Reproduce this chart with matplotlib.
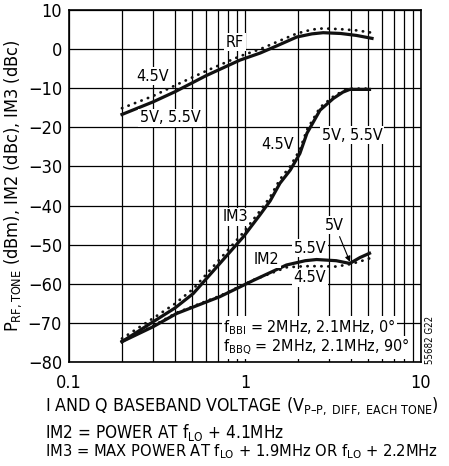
import matplotlib
matplotlib.use('Agg')
import matplotlib.pyplot as plt
import numpy as np

plt.rcParams['font.family'] = ['DejaVu Sans']
plt.rcParams['font.stretch'] = 'condensed'
plt.rcParams['mathtext.fontset'] = 'custom'
plt.rcParams['mathtext.rm'] = 'DejaVu Sans:stretch=condensed'
plt.rcParams['mathtext.it'] = 'DejaVu Sans:stretch=condensed'

# RF output power, 5V/5.5V (solid) and 4.5V (dotted)
rf_x = [0.2, 0.3, 0.4, 0.6, 0.937, 1.22, 1.51, 1.97, 2.4, 2.78, 3.5, 4.3, 5.27]
rf_solid = [-16.7, -13.5, -10.9, -6.8, -2.8, -1.0, 0.8, 3.1, 3.9, 4.2, 4.0, 3.5, 2.75]
rf_dot = [-15.1, -12.0, -9.3, -5.6, -1.8, 0.0, 1.8, 4.0, 5.0, 5.3, 5.1, 4.8, 4.2]

# IM3
im3_x = [0.2, 0.301, 0.4, 0.508, 0.72, 0.978, 1.22, 1.39, 1.58, 1.81, 2.05, 2.25,
         2.67, 3.18, 3.6, 3.94, 5.1]
im3_solid = [-74.8, -69.7, -66.2, -62.5, -54.8, -48.0, -42.3, -38.8, -34.3, -30.9, -26.7, -21.5,
             -15.6, -12.6, -11.0, -10.3, -10.3]
im3_dot = [-74.0, -68.8, -65.1, -61.3, -53.7, -46.9, -41.3, -37.8, -33.3, -29.9, -25.7, -20.6,
           -14.9, -12.1, -10.7, -10.1, -10.1]

# IM2
im2_x = [0.2, 0.3, 0.409, 0.72, 1.12, 1.72, 2.2, 2.55, 3.3, 3.94, 4.5, 5.1]
im2_solid = [-74.8, -71.0, -67.6, -63.3, -59.1, -55.2, -54.1, -53.8, -54.1, -54.8, -53.3, -52.2]
im2_dot = [-74.6, -70.8, -67.4, -63.1, -59.0, -55.8, -55.5, -55.5, -55.6, -55.0, -54.3, -53.5]

fig = plt.figure(figsize=(4.49, 4.66), dpi=100)
ax = fig.add_axes([0.1537, 0.2232, 0.7839, 0.7553])

lw = 2.3
dots = dict(color='#111111', lw=2.0, linestyle=(0, (0.1, 2.4)), dash_capstyle='round')
ax.plot(rf_x, rf_solid, color='#111111', lw=lw)
ax.plot(rf_x, rf_dot, **dots)
ax.plot(im3_x, im3_solid, color='#111111', lw=lw)
ax.plot(im3_x, im3_dot, **dots)
ax.plot(im2_x, im2_solid, color='#111111', lw=lw)
ax.plot(im2_x, im2_dot, **dots)

ax.set_xscale('log')
ax.set_xlim(0.1, 10)
ax.set_ylim(-80, 10)
ax.set_yticks(np.arange(-80, 11, 10))
ax.set_yticklabels(['\u221280', '\u221270', '\u221260', '\u221250', '\u221240', '\u221230',
                    '\u221220', '\u221210', '0', '10'])
ax.set_xticks([0.1, 1, 10])
ax.set_xticklabels(['0.1', '1', '10'])
ax.grid(which='both', color='black', lw=0.9)
ax.tick_params(which='both', length=0, labelsize=13)
ax.tick_params(axis='x', pad=9)
ax.tick_params(axis='y', pad=5)
for s in ax.spines.values():
    s.set_linewidth(1.2)

box = dict(facecolor='white', edgecolor='none', pad=1.0)
fs = 11.5
ax.text(0.877, 1.8, 'RF', fontsize=fs, ha='center', va='center', bbox=box)
ax.text(0.30, -6.9, '4.5V', fontsize=fs, ha='center', va='center', bbox=box)
ax.text(0.375, -17.6, '5V, 5.5V', fontsize=fs, ha='center', va='center', bbox=box)
ax.text(1.54, -24.5, '4.5V', fontsize=fs, ha='center', va='center', bbox=box)
ax.text(4.05, -22.0, '5V, 5.5V', fontsize=fs, ha='center', va='center', bbox=box)
ax.text(0.877, -42.9, 'IM3', fontsize=fs, ha='center', va='center', bbox=box)
ax.text(1.33, -53.7, 'IM2', fontsize=fs, ha='center', va='center', bbox=box)
ax.text(2.34, -50.9, '5.5V', fontsize=fs, ha='center', va='center', bbox=box)
ax.text(2.34, -58.5, '4.5V', fontsize=fs, ha='center', va='center', bbox=box)
ax.annotate('5V', xy=(3.95, -54.4), xytext=(3.24, -45.0), fontsize=fs,
            ha='center', va='center', bbox=box,
            arrowprops=dict(arrowstyle='-|>', color='black', lw=0.8,
                            shrinkA=2, shrinkB=0, mutation_scale=8))
ax.text(0.75, -71.1, '$\\mathregular{f_{BBI}}$ = 2MHz, 2.1MHz, 0\u00b0', fontsize=fs,
        ha='left', va='center', bbox=box)
ax.text(0.75, -76.2, '$\\mathregular{f_{BBQ}}$ = 2MHz, 2.1MHz, 90\u00b0', fontsize=fs,
        ha='left', va='center', bbox=box)
fig.text(0.958, 0.27, '55682 G22', fontsize=7, rotation=90, ha='center', va='center')

ax.set_ylabel('$\\mathregular{P_{RF,TONE}}$ (dBm), IM2 (dBc), IM3 (dBc)', fontsize=13, labelpad=3)
fig.text(0.1, 0.118, 'I AND Q BASEBAND VOLTAGE ($\\mathregular{V_{P\u2013P,\\ DIFF,\\ EACH\\ TONE}}$)',
         fontsize=12.8, ha='left', va='baseline')
fig.text(0.1, 0.061, 'IM2 = POWER AT $\\mathregular{f_{LO}}$ + 4.1MHz', fontsize=12.3,
         ha='left', va='baseline')
fig.text(0.1, 0.021, 'IM3 = MAX POWER AT $\\mathregular{f_{LO}}$ + 1.9MHz OR $\\mathregular{f_{LO}}$ + 2.2MHz',
         fontsize=11.8, ha='left', va='baseline')

plt.savefig('out.png', dpi=100)
